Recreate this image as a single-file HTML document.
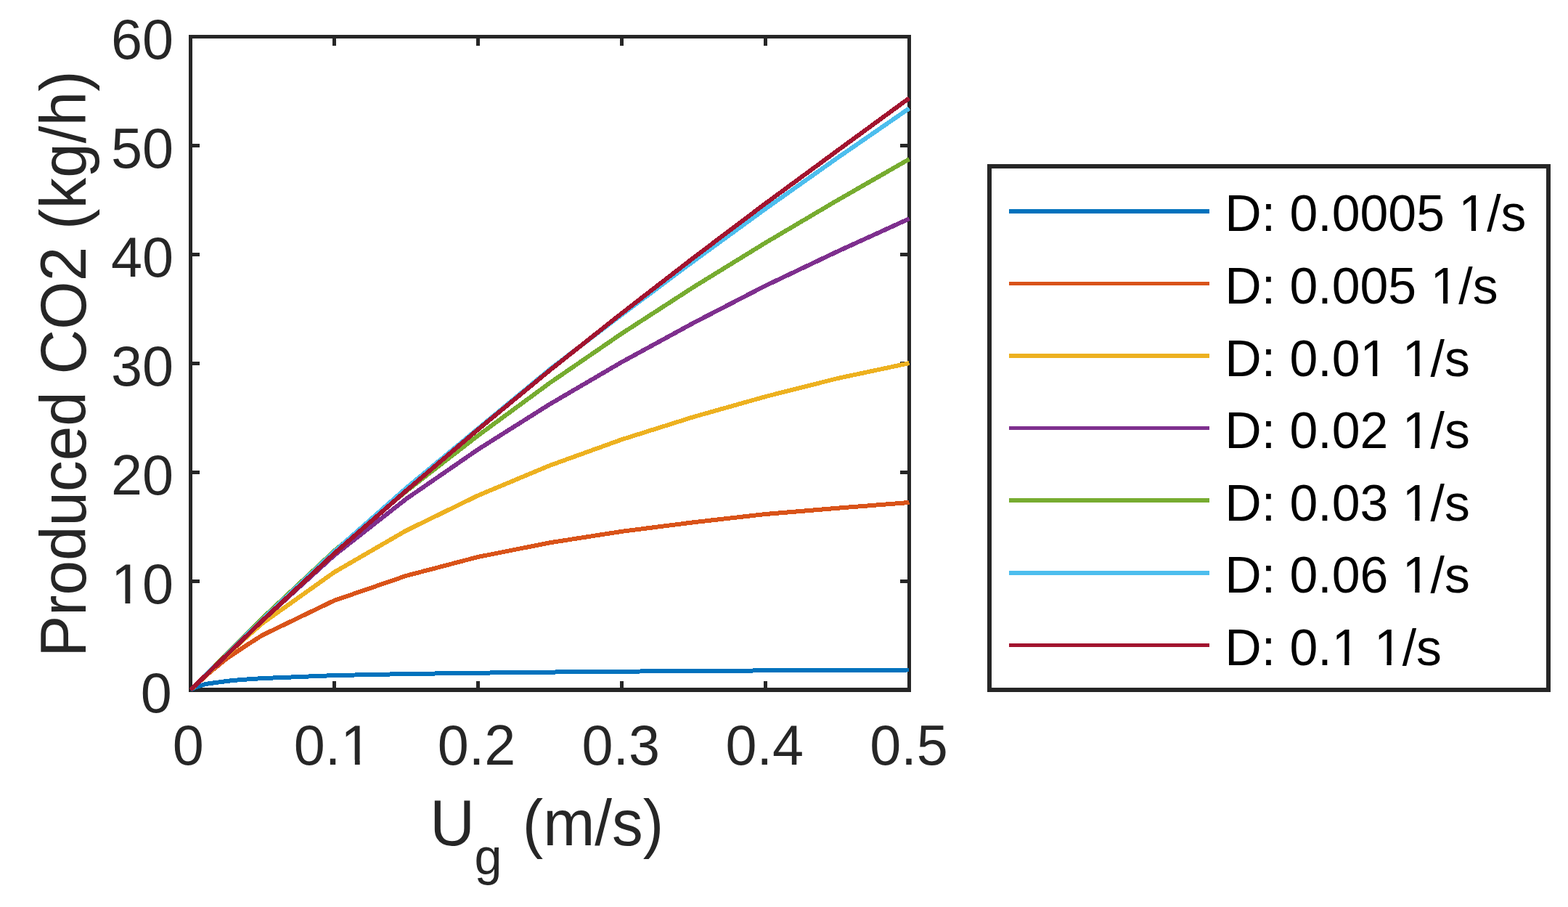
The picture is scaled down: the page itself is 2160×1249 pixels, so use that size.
<!DOCTYPE html>
<html lang="en"><head><meta charset="utf-8"><title>Produced CO2 vs Ug</title>
<style>
html,body{margin:0;padding:0;background:#fff;}
body{width:2160px;height:1249px;overflow:hidden;}
svg{display:block;}
text{font-family:"Liberation Sans",sans-serif;font-kerning:none;white-space:pre;}
.tk{font-size:77.4px;fill:#262626;}
.lb{font-size:85.44px;fill:#262626;}
.lg{font-size:69.8px;fill:#000;}
.cv{fill:none;stroke-width:6;stroke-linejoin:round;stroke-linecap:butt;}
</style></head><body>
<svg xmlns="http://www.w3.org/2000/svg" width="2160" height="1249" viewBox="0 0 2160 1249">
<rect x="0" y="0" width="2160" height="1249" fill="#fff"/>
<g fill="#262626" shape-rendering="crispEdges">
<rect x="260" y="47.9" width="5" height="905.1"/>
<rect x="1250" y="47.9" width="5" height="905.1"/>
<rect x="260" y="47.9" width="995" height="5"/>
<rect x="260" y="947.2" width="995" height="5.8"/>
<rect x="458" y="937.7" width="5" height="12.4"/>
<rect x="458" y="50.4" width="5" height="12.4"/>
<rect x="656" y="937.7" width="5" height="12.4"/>
<rect x="656" y="50.4" width="5" height="12.4"/>
<rect x="854" y="937.7" width="5" height="12.4"/>
<rect x="854" y="50.4" width="5" height="12.4"/>
<rect x="1052" y="937.7" width="5" height="12.4"/>
<rect x="1052" y="50.4" width="5" height="12.4"/>
<rect x="262.5" y="797.6" width="12.4" height="5"/>
<rect x="1240.1" y="797.6" width="12.4" height="5"/>
<rect x="262.5" y="647.6" width="12.4" height="5"/>
<rect x="1240.1" y="647.6" width="12.4" height="5"/>
<rect x="262.5" y="497.6" width="12.4" height="5"/>
<rect x="1240.1" y="497.6" width="12.4" height="5"/>
<rect x="262.5" y="347.6" width="12.4" height="5"/>
<rect x="1240.1" y="347.6" width="12.4" height="5"/>
<rect x="262.5" y="197.6" width="12.4" height="5"/>
<rect x="1240.1" y="197.6" width="12.4" height="5"/>
</g>
<g class="cv" shape-rendering="crispEdges">
<polyline stroke="#0072BD" points="262.5,950.1 270.42,946.05 283.09,942 300.12,939.6 319.92,937.05 347.05,935 361.5,934.1 460.5,930.08 559.5,928.05 658.5,926.7 757.5,925.58 856.5,924.68 955.5,924 1054.5,923.4 1153.5,922.95 1252.5,922.5"/>
<polyline stroke="#D95319" points="262.5,950.1 287.25,927.3 313.19,906.15 336.35,890.7 361.5,874.65 460.5,826.95 559.5,792.9 658.5,766.95 757.5,747.3 856.5,731.85 955.5,719.25 1054.5,708 1153.5,699.75 1252.5,691.95"/>
<polyline stroke="#EDB120" points="262.5,950.1 312,902.85 336.75,879.9 361.5,858.3 460.5,787.95 559.5,730.65 658.5,682.35 757.5,640.95 856.5,605.25 955.5,574.05 1054.5,546.15 1153.5,521.1 1252.5,500.1"/>
<polyline stroke="#7E2F8E" points="262.5,950.1 361.5,854.55 460.5,764.7 559.5,687.15 658.5,618.9 757.5,556.5 856.5,498.6 955.5,444.6 1054.5,393.45 1153.5,346.35 1252.5,301.2"/>
<polyline stroke="#77AC30" points="262.5,950.1 361.5,851.25 460.5,758.55 559.5,676.5 658.5,599.85 757.5,527.25 856.5,459.3 955.5,395.25 1054.5,334.35 1153.5,275.85 1252.5,219.15"/>
<polyline stroke="#4DBEEE" points="262.5,950.1 361.5,853.05 460.5,759.45 559.5,672.15 658.5,590.25 757.5,508.5 856.5,433.35 955.5,359.55 1054.5,287.55 1153.5,217.5 1252.5,149.25"/>
<polyline stroke="#A2142F" points="262.5,950.1 361.5,854.55 460.5,762.15 559.5,675.75 658.5,591.45 757.5,509.85 856.5,431.4 955.5,354.9 1054.5,280.2 1153.5,207.45 1252.5,135.15"/>
</g>
<text class="tk" transform="translate(193.78 981.24) scale(1 1.005)">0</text>
<text class="tk" transform="translate(152.98 831.24) scale(1 1.005)">10</text>
<text class="tk" transform="translate(152.98 681.24) scale(1 1.005)">20</text>
<text class="tk" transform="translate(152.98 531.24) scale(1 1.005)">30</text>
<text class="tk" transform="translate(152.98 381.24) scale(1 1.005)">40</text>
<text class="tk" transform="translate(152.98 231.24) scale(1 1.005)">50</text>
<text class="tk" transform="translate(152.98 81.24) scale(1 1.005)">60</text>
<text class="tk" transform="translate(237.8 1052.95) scale(1 1.005)">0</text>
<text class="tk" transform="translate(404.83 1052.95) scale(1 1.005)">0.1</text>
<text class="tk" transform="translate(602.83 1052.95) scale(1 1.005)">0.2</text>
<text class="tk" transform="translate(801.43 1052.95) scale(1 1.005)">0.3</text>
<text class="tk" transform="translate(999.43 1052.95) scale(1 1.005)">0.4</text>
<text class="tk" transform="translate(1198.2 1052.95) scale(1 1.005)">0.5</text>
<text class="lb" transform="translate(118 904.86) rotate(-90) scale(1 1.035)">Produced CO2 (kg/h)</text>
<text class="lb" transform="translate(0 1163.9) scale(1 1.035)"><tspan x="592.2">U</tspan><tspan x="653.4" dy="39.13" font-size="68.3px">g</tspan><tspan x="695.96" dy="-39.13"> (m/s)</tspan></text>
<rect x="1363" y="229" width="770" height="721" fill="#fff" stroke="#262626" stroke-width="6" shape-rendering="crispEdges"/>
<g shape-rendering="crispEdges">
<rect x="1390" y="288" width="276" height="6" fill="#0072BD"/>
<rect x="1390" y="388" width="276" height="5" fill="#D95319"/>
<rect x="1390" y="487" width="276" height="6" fill="#EDB120"/>
<rect x="1390" y="587" width="276" height="5" fill="#7E2F8E"/>
<rect x="1390" y="686" width="276" height="6" fill="#77AC30"/>
<rect x="1390" y="786" width="276" height="6" fill="#4DBEEE"/>
<rect x="1390" y="886" width="276" height="5" fill="#A2142F"/>
</g>
<text class="lg" transform="translate(1687.27 317.9) scale(1 1.02)">D: 0.0005 1/s</text>
<text class="lg" transform="translate(1687.27 417.9) scale(1 1.02)">D: 0.005 1/s</text>
<text class="lg" transform="translate(1687.27 517.9) scale(1 1.02)">D: 0.01 1/s</text>
<text class="lg" transform="translate(1687.27 616.9) scale(1 1.02)">D: 0.02 1/s</text>
<text class="lg" transform="translate(1687.27 716.9) scale(1 1.02)">D: 0.03 1/s</text>
<text class="lg" transform="translate(1687.27 815.9) scale(1 1.02)">D: 0.06 1/s</text>
<text class="lg" transform="translate(1687.27 915.9) scale(1 1.02)">D: 0.1 1/s</text>
<g fill="#fff"><rect x="157.28" y="824.83" width="15.17" height="7.21"/><rect x="179.28" y="824.83" width="14.56" height="7.21"/><rect x="473.68" y="1046.54" width="15.17" height="7.21"/><rect x="495.68" y="1046.54" width="14.56" height="7.21"/><rect x="2013.06" y="311.98" width="13.84" height="6.72"/><rect x="2033.07" y="311.98" width="13.29" height="6.72"/><rect x="1974.24" y="411.98" width="13.84" height="6.72"/><rect x="1994.25" y="411.98" width="13.29" height="6.72"/><rect x="1877.21" y="511.98" width="13.84" height="6.72"/><rect x="1897.22" y="511.98" width="13.29" height="6.72"/><rect x="1935.42" y="511.98" width="13.84" height="6.72"/><rect x="1955.43" y="511.98" width="13.29" height="6.72"/><rect x="1935.42" y="610.98" width="13.84" height="6.72"/><rect x="1955.43" y="610.98" width="13.29" height="6.72"/><rect x="1935.42" y="710.98" width="13.84" height="6.72"/><rect x="1955.43" y="710.98" width="13.29" height="6.72"/><rect x="1935.42" y="809.98" width="13.84" height="6.72"/><rect x="1955.43" y="809.98" width="13.29" height="6.72"/><rect x="1838.39" y="909.98" width="13.84" height="6.72"/><rect x="1858.4" y="909.98" width="13.29" height="6.72"/><rect x="1896.6" y="909.98" width="13.84" height="6.72"/><rect x="1916.61" y="909.98" width="13.29" height="6.72"/></g>
</svg>
</body></html>
